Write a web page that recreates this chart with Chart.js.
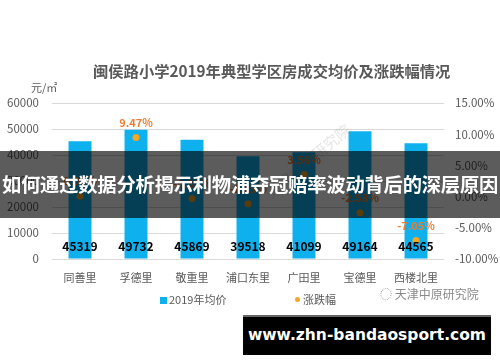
<!DOCTYPE html>
<html>
<head>
<meta charset="utf-8">
<script src="https://cdn.jsdelivr.net/npm/chart.js@4"></script>
<style>
  body { margin: 0; background: #fff; font-family: "Noto Sans CJK SC", "Noto Sans", sans-serif; }
  #wrap { position: relative; width: 500px; height: 362px; overflow: hidden; }
  canvas { position: absolute; left: 0; top: 0; }
  .abs { position: absolute; white-space: nowrap; }
  #title { left: 93px; top: 59px; font-size: 15.3px; font-weight: bold; color: #595959; }
  #unit { left: 31px; top: 79px; font-size: 11px; color: #595959; }
  .legend { top: 291px; font-size: 11px; color: #595959; }
  #banner { left: 0; top: 151px; width: 500px; height: 67px; background: rgba(0,0,0,0.64); }
  #bannerText { left: 0; width: 500px; top: 170px; text-align: center; font-size: 19.3px; font-weight: bold; color: #fff; letter-spacing: -0.2px; }
  #site { left: 243px; top: 315px; width: 248px; height: 38px; background: #000; border-top: 2px solid #666; color: #fff;
          font-family: "DejaVu Sans", sans-serif; font-weight: bold; font-size: 15.5px; text-align: center; line-height: 37px; }
  #mark { left: 380px; top: 285px; font-size: 12px; color: #8a8a8a; }
  #diag { left: 255px; top: 150px; font-size: 15px; color: rgba(150,150,150,0.25); transform: rotate(-40deg); }
</style>
</head>
<body>
<div id="wrap">
  <canvas id="chart" width="500" height="362"></canvas>
  <div class="abs" id="title">闽侯路小学2019年典型学区房成交均价及涨跌幅情况</div>
  <div class="abs" id="unit">元/㎡</div>
  <div class="abs" id="diag">天津中原研究院</div>
  <div class="abs legend" style="left:160px"><span style="display:inline-block;width:7px;height:7px;background:#0EB0EE;margin-right:2px"></span>2019年均价</div>
  <div class="abs legend" style="left:295px"><span style="display:inline-block;width:5px;height:5px;border-radius:50%;background:#F5A623;margin-right:3px;vertical-align:2px"></span>涨跌幅</div>
  <div class="abs" id="mark">◌ 天津中原研究院</div>
  <div class="abs" id="banner"></div>
  <div class="abs" id="bannerText">如何通过数据分析揭示利物浦夺冠赔率波动背后的深层原因</div>
  <div class="abs" id="site">www.zhn-bandaosport.com</div>
</div>
<script>
const categories = ['同善里', '孚德里', '敬重里', '浦口东里', '广田里', '宝德里', '西楼北里'];
const avgPrice = [45319, 49732, 45869, 39518, 41099, 49164, 44565];
const changePct = [0.05, 9.47, -0.32, -1.15, 3.56, -2.58, -7.05];
const leftTicks = [0, 60000, 10000];
const rightTicks = [-10, 15, 5];

const fontCJK = '"Noto Sans CJK SC", "Noto Sans", sans-serif';

// bar values in black at the foot of each bar, percent labels above the dots
const labelPlugin = {
    id: 'labels',
    afterDatasetsDraw(chart) {
        const ctx = chart.ctx;
        ctx.save();
        ctx.textAlign = 'center';
        ctx.textBaseline = 'middle';
        const bars = chart.getDatasetMeta(1).data;
        ctx.font = 'bold 12px ' + fontCJK;
        ctx.fillStyle = '#000';
        bars.forEach((b, i) => ctx.fillText(avgPrice[i], b.x, 246));
        const pts = chart.getDatasetMeta(0).data;
        ctx.font = 'bold 11px ' + fontCJK;
        ctx.fillStyle = '#ED7D31';
        pts.forEach((p, i) => ctx.fillText(changePct[i].toFixed(2) + '%', p.x, p.y - 15));
        ctx.restore();
    }
};

new Chart(document.getElementById('chart'), {
    data: {
        labels: categories,
        datasets: [
            {
                type: 'line',
                label: '涨跌幅',
                data: changePct,
                yAxisID: 'y1',
                showLine: false,
                pointRadius: 3.5,
                pointBackgroundColor: '#F5A623',
                pointBorderWidth: 0,
                order: 0
            },
            {
                type: 'bar',
                label: '2019年均价',
                data: avgPrice,
                yAxisID: 'y',
                backgroundColor: '#0EB0EE',
                barPercentage: 0.41,
                categoryPercentage: 1,
                order: 1
            }
        ]
    },
    options: {
        responsive: false,
        animation: false,
        layout: { padding: { top: 103, bottom: 73, left: 0, right: 0 } },
        plugins: { legend: { display: false }, tooltip: { enabled: false } },
        scales: {
            x: {
                grid: { display: false },
                border: { display: false },
                ticks: { color: '#595959', font: { size: 11, family: fontCJK }, padding: 4 },
                afterFit(s) { s.height = 30; }
            },
            y: {
                position: 'left',
                min: leftTicks[0], max: leftTicks[1],
                ticks: { stepSize: leftTicks[2], color: '#595959', font: { size: 11.5, family: fontCJK }, padding: 5,
                         callback: v => String(v) },
                grid: { color: '#D9D9D9', drawTicks: true, tickColor: 'rgba(0,0,0,0)' },
                border: { display: false },
                afterFit(s) { s.width = 52; }
            },
            y1: {
                position: 'right',
                min: rightTicks[0], max: rightTicks[1],
                ticks: { stepSize: rightTicks[2], color: '#595959', font: { size: 11.5, family: fontCJK }, padding: 3,
                         callback: v => v.toFixed(2) + '%' },
                grid: { display: false },
                border: { display: false },
                afterFit(s) { s.width = 56; }
            }
        }
    },
    plugins: [labelPlugin]
});
</script>
</body>
</html>
